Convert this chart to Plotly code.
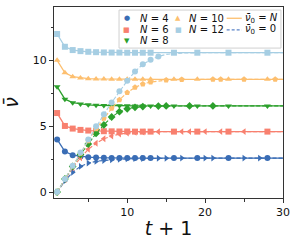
import plotly.graph_objects as go

# ---------------- data ----------------
T = list(range(1, 31))
N_LABELS = ["4", "6", "8", "10", "12"]

SOLID_4 = [4.00, 3.08, 2.80, 2.70, 2.65, 2.62, 2.60, 2.59, 2.59, 2.58, 2.58, 2.58, 2.58, 2.58, 2.58,
           2.58, 2.58, 2.58, 2.58, 2.58, 2.58, 2.58, 2.58, 2.58, 2.58, 2.58, 2.58, 2.58, 2.58, 2.58]
SOLID_6 = [6.00, 5.02, 4.82, 4.72, 4.67, 4.64, 4.62, 4.61, 4.60, 4.60, 4.59, 4.59, 4.59, 4.59, 4.59,
           4.59, 4.59, 4.59, 4.59, 4.59, 4.59, 4.59, 4.59, 4.59, 4.59, 4.59, 4.59, 4.59, 4.59, 4.59]
SOLID_8 = [8.00, 7.05, 6.79, 6.69, 6.62, 6.59, 6.57, 6.56, 6.55, 6.55, 6.54, 6.54, 6.54, 6.54, 6.54,
           6.54, 6.54, 6.54, 6.54, 6.54, 6.54, 6.54, 6.54, 6.54, 6.54, 6.54, 6.54, 6.54, 6.54, 6.54]
SOLID_10 = [10.00, 9.06, 8.76, 8.66, 8.61, 8.59, 8.58, 8.57, 8.57, 8.56, 8.56, 8.56, 8.56, 8.56, 8.56,
            8.56, 8.56, 8.56, 8.56, 8.56, 8.56, 8.56, 8.56, 8.56, 8.56, 8.56, 8.56, 8.56, 8.56, 8.56]
SOLID_12 = [12.00, 11.03, 10.78, 10.70, 10.65, 10.62, 10.60, 10.59, 10.59, 10.58, 10.58, 10.58, 10.58,
            10.58, 10.58, 10.58, 10.58, 10.58, 10.58, 10.58, 10.58, 10.58, 10.58, 10.58, 10.58, 10.58,
            10.58, 10.58, 10.58, 10.58]

DASH_4 = [0.00, 0.85, 1.50, 1.95, 2.20, 2.33, 2.40, 2.45, 2.49, 2.52, 2.54, 2.55, 2.56, 2.57, 2.57,
          2.58, 2.58, 2.58, 2.58, 2.58, 2.58, 2.58, 2.58, 2.58, 2.58, 2.58, 2.58, 2.58, 2.58, 2.58]
DASH_6 = [0.00, 0.95, 1.85, 2.60, 3.25, 3.70, 4.05, 4.25, 4.40, 4.48, 4.53, 4.56, 4.57, 4.58, 4.58,
          4.59, 4.59, 4.59, 4.59, 4.59, 4.59, 4.59, 4.59, 4.59, 4.59, 4.59, 4.59, 4.59, 4.59, 4.59]
DASH_8 = [0.00, 1.00, 1.95, 2.85, 3.65, 4.45, 5.10, 5.70, 6.10, 6.32, 6.43, 6.49, 6.52, 6.53, 6.54,
          6.54, 6.54, 6.54, 6.54, 6.54, 6.54, 6.54, 6.54, 6.54, 6.54, 6.54, 6.54, 6.54, 6.54, 6.54]
DASH_10 = [0.00, 1.00, 2.00, 2.95, 3.90, 4.80, 5.60, 6.35, 7.00, 7.55, 7.95, 8.20, 8.35, 8.45, 8.50,
           8.53, 8.55, 8.56, 8.56, 8.56, 8.56, 8.56, 8.56, 8.56, 8.56, 8.56, 8.56, 8.56, 8.56, 8.56]
DASH_12 = [0.00, 1.00, 2.00, 3.00, 4.00, 5.00, 5.90, 6.80, 7.65, 8.45, 9.15, 9.70, 10.05, 10.30, 10.45,
           10.52, 10.55, 10.57, 10.58, 10.58, 10.58, 10.58, 10.58, 10.58, 10.58, 10.58, 10.58, 10.58,
           10.58, 10.58]

SOLID_MARK_T = [1, 2, 3, 4, 5, 6, 7, 8, 9, 10, 11, 12, 13, 16, 19, 23, 28]
DASH_MARK_T_4 = [1, 2, 3, 4, 5, 6, 7, 8, 9, 10, 11, 12, 14, 15, 17, 20, 21, 25, 27]
DASH_MARK_T_6 = [1, 2, 3, 4, 5, 6, 7, 8, 9, 10, 11, 12, 14, 17, 18, 20, 22, 25]
DASH_MARK_T_8 = [1, 2, 3, 4, 5, 6, 7, 8, 9, 10, 11, 12, 14, 15, 18, 21]
DASH_MARK_T_10 = [1, 2, 3, 4, 5, 6, 7, 8, 9, 10, 11, 12, 13, 15, 17, 21, 22, 25, 29]
DASH_MARK_T_12 = [1, 2, 3, 4, 5, 6, 7, 8, 9, 10, 11, 12, 13, 14]

X_TICKS = [10, 20, 30]
X_MINOR = [5, 15, 25]
Y_TICKS = [0, 5, 10]
Y_MINOR = [2.5, 7.5, 12.5]

# ---------------- styles ----------------
COLORS = ["#3a6db5", "#f8806f", "#2ca02c", "#fdbf6f", "#a6cee3"]
SOLID_SYM = ["circle", "square", "triangle-down", "triangle-up", "square"]
DASH_SYM = ["triangle-right", "triangle-left", "diamond", "pentagon", "circle"]

solids = [SOLID_4, SOLID_6, SOLID_8, SOLID_10, SOLID_12]
dashes = [DASH_4, DASH_6, DASH_8, DASH_10, DASH_12]
dash_marks = [DASH_MARK_T_4, DASH_MARK_T_6, DASH_MARK_T_8, DASH_MARK_T_10, DASH_MARK_T_12]

fig = go.Figure()


def subset(xs, ys, keep):
    kx, ky = [], []
    for x, y in zip(xs, ys):
        if x in keep:
            kx.append(x)
            ky.append(y)
    return kx, ky


for i in range(5):
    c = COLORS[i]
    fig.add_trace(go.Scatter(x=T, y=solids[i], mode="lines",
                             line=dict(color=c, width=1.3), showlegend=False, hoverinfo="skip"))
    mx, my = subset(T, solids[i], SOLID_MARK_T)
    fig.add_trace(go.Scatter(x=mx, y=my, mode="markers",
                             marker=dict(color=c, size=6, symbol=SOLID_SYM[i]),
                             showlegend=False))
    fig.add_trace(go.Scatter(x=T, y=dashes[i], mode="lines",
                             line=dict(color=c, width=1.1, dash="4px,2px"), showlegend=False,
                             hoverinfo="skip"))
    mx, my = subset(T, dashes[i], dash_marks[i])
    fig.add_trace(go.Scatter(x=mx, y=my, mode="markers",
                             marker=dict(color=c, size=6, symbol=DASH_SYM[i]),
                             showlegend=False))

# ---------------- manual legend (layout decorations) ----------------
FONT = "DejaVu Sans"
LEG_FONT = dict(family=FONT, size=10, color="#111")
row_y = [0.941, 0.880, 0.822]
annotations = []
shapes = []

shapes.append(dict(type="rect", xref="paper", yref="paper", x0=0.284, x1=0.991, y0=0.785, y1=0.984,
                   line=dict(color="#d0d0d0", width=1), fillcolor="rgba(255,255,255,0.85)", layer="above"))

sym_char = ["●", "■", "▼", "▲", "■"]
pos = [(0.317, 0.367, 0), (0.317, 0.367, 1), (0.317, 0.367, 2), (0.543, 0.582, 0), (0.543, 0.582, 1)]
for i in range(5):
    mxp, txp, r = pos[i]
    annotations.append(dict(xref="paper", yref="paper", x=mxp, y=row_y[r], text=sym_char[i],
                            showarrow=False, xanchor="center", yanchor="middle",
                            font=dict(family=FONT, size=7, color=COLORS[i])))
    annotations.append(dict(xref="paper", yref="paper", x=txp, y=row_y[r],
                            text="<i>N</i> = " + N_LABELS[i], showarrow=False,
                            xanchor="left", yanchor="middle", font=LEG_FONT))

shapes.append(dict(type="line", xref="paper", yref="paper", x0=0.754, x1=0.820, y0=row_y[0], y1=row_y[0],
                   line=dict(color="#fdbf6f", width=1.3), layer="above"))
shapes.append(dict(type="line", xref="paper", yref="paper", x0=0.754, x1=0.820, y0=row_y[1], y1=row_y[1],
                   line=dict(color="#5b84c8", width=1.1, dash="3px,2px"), layer="above"))
annotations.append(dict(xref="paper", yref="paper", x=0.825, y=row_y[0],
                        text="<i>ν̄</i><sub>0</sub> = <i>N</i>", showarrow=False,
                        xanchor="left", yanchor="middle", font=LEG_FONT))
annotations.append(dict(xref="paper", yref="paper", x=0.825, y=row_y[1],
                        text="<i>ν̄</i><sub>0</sub> = 0", showarrow=False,
                        xanchor="left", yanchor="middle", font=LEG_FONT))

axis_common = dict(showline=True, linecolor="#333", linewidth=1, mirror=True, showgrid=False,
                   zeroline=False, ticks="outside", ticklen=4, tickwidth=1, tickcolor="#333",
                   automargin=False,
                   tickfont=dict(family=FONT, size=11, color="#111"))

fig.update_layout(
    template="none",
    width=299, height=249,
    margin=dict(l=54, r=16, t=7, b=51, autoexpand=False),
    plot_bgcolor="white", paper_bgcolor="white",
    showlegend=False,
    annotations=annotations, shapes=shapes,
    xaxis=dict(range=[0.6, 30], tickvals=X_TICKS, ticktext=[str(v) for v in X_TICKS],
               minor=dict(tickvals=X_MINOR, ticklen=2.5, ticks="outside", tickcolor="#333"),
               title=dict(text="<i>t</i> + 1", font=dict(family=FONT, size=19, color="#111"),
                          standoff=3),
               **axis_common),
    yaxis=dict(range=[-0.45, 14.05], tickvals=Y_TICKS, ticktext=[str(v) for v in Y_TICKS],
               minor=dict(tickvals=Y_MINOR, ticklen=2.5, ticks="outside", tickcolor="#333"),
               title=dict(text="<i>ν̄</i>", font=dict(family=FONT, size=19, color="#111"),
                          standoff=20),
               **axis_common),
)

fig.write_html("out.html", post_script="document.body.style.margin='0';",
               config={"displayModeBar": False})
